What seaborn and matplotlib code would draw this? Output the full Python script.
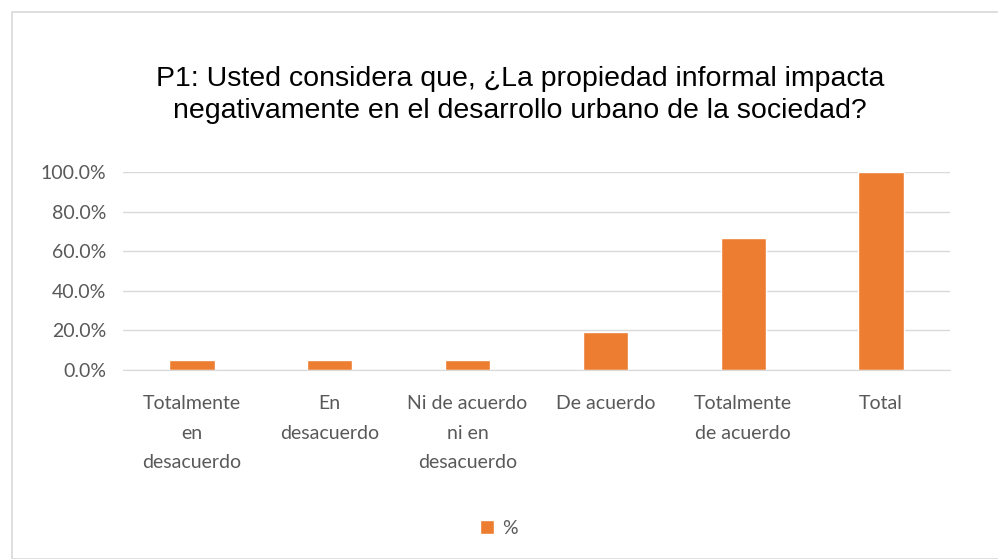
import pandas as pd
import matplotlib.pyplot as plt
import seaborn as sns
from matplotlib.patches import Rectangle
from matplotlib.ticker import PercentFormatter

categories = ["Totalmente\nen\ndesacuerdo", "En\ndesacuerdo", "Ni de acuerdo\nni en\ndesacuerdo",
              "De acuerdo", "Totalmente\nde acuerdo", "Total"]
values = [0.048, 0.048, 0.048, 0.190, 0.667, 1.000]
series = ["%"] * len(categories)

df = pd.DataFrame({"cat": categories, "val": values, "serie": series})

sns.set_style("white")
plt.rcParams["font.family"] = ["Lato", "DejaVu Sans"]

fig = plt.figure(figsize=(9.98, 5.59), dpi=100)
ax = fig.add_axes([123 / 998, 1 - 370 / 559, (950 - 123) / 998, (370 - 172) / 559])

sns.barplot(data=df, x="cat", y="val", hue="serie", palette=["#ED7D31"],
            width=0.33, saturation=1, ax=ax)

ax.set_ylim(0, 1.0)
ax.set_yticks([0, 0.2, 0.4, 0.6, 0.8, 1.0])
ax.yaxis.set_major_formatter(PercentFormatter(1.0, decimals=1))
ax.grid(axis="y", color="#D9D9D9", linewidth=1)
ax.set_axisbelow(True)
for s in ["top", "right", "left"]:
    ax.spines[s].set_visible(False)
ax.spines["bottom"].set_color("#D9D9D9")
ax.set_xlabel("")
ax.set_ylabel("")
ax.tick_params(axis="both", length=0, labelsize=14, labelcolor="#595959")
ax.tick_params(axis="x", pad=18)
ax.tick_params(axis="y", pad=12)
for lab in ax.get_xticklabels():
    lab.set_linespacing(1.9)

ax.get_legend().remove()
handles, labels = ax.get_legend_handles_labels()
fig.legend(handles, labels, loc="center", bbox_to_anchor=(0.5, 1 - 528 / 559),
           frameon=False, fontsize=14, handlelength=0.7, handleheight=0.7,
           handletextpad=0.4, labelcolor="#595959")

fig.text(0.521, 1 - 95 / 559,
         "P1: Usted considera que, ¿La propiedad informal impacta\nnegativamente en el desarrollo urbano de la sociedad?",
         ha="center", va="center", fontsize=20.5, color="#000000",
         family=["Liberation Sans Narrow", "Liberation Sans", "DejaVu Sans"], linespacing=1.35)

fig.patches.append(Rectangle((12 / 998, 0), 1, 1 - 12 / 559, transform=fig.transFigure,
                             fill=False, edgecolor="#D9D9D9", linewidth=1.2))

fig.savefig("out.png", dpi=100)
